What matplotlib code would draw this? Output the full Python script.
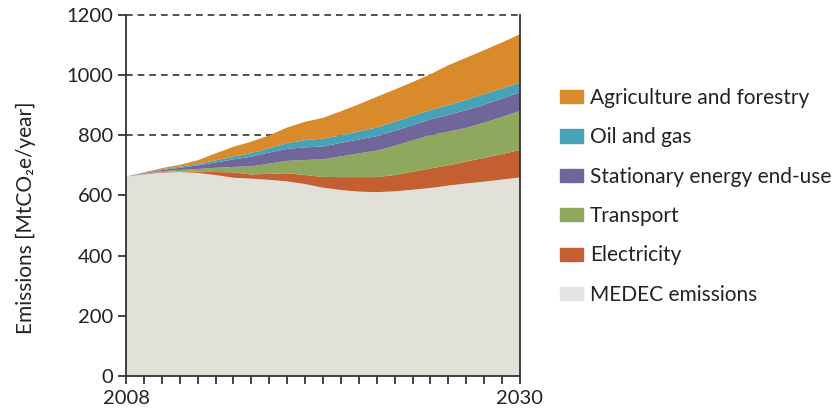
import matplotlib
matplotlib.use("Agg")
import matplotlib.pyplot as plt
import numpy as np

plt.rcParams['font.family'] = ['Lato', 'DejaVu Sans']

years = list(range(2008, 2031))
# cumulative tops
medec_top = [663, 670, 676, 678, 675, 668, 659, 656, 652, 647, 638, 626, 618, 613, 611, 614, 619, 625, 633, 640, 646, 653, 660]
elec_top = [663, 671, 678, 680, 679, 678, 677, 670, 672, 674, 668, 662, 661, 661, 661, 668, 679, 690, 700, 713, 725, 738, 751]
trans_top = [663, 672, 681, 685, 688, 692, 695, 697, 706, 715, 718, 720, 730, 740, 749, 765, 783, 801, 812, 825, 842, 861, 881]
stat_top = [663, 674, 685, 692, 700, 710, 720, 729, 743, 755, 760, 763, 775, 786, 797, 815, 834, 853, 868, 884, 902, 922, 943]
oil_top = [663, 675, 687, 696, 705, 717, 729, 741, 757, 774, 784, 789, 800, 813, 826, 845, 865, 884, 900, 918, 937, 956, 975]
agri_top = [663, 677, 691, 702, 717, 740, 762, 779, 800, 826, 845, 858, 880, 903, 928, 952, 977, 1003, 1033, 1058, 1083, 1109, 1136]

series_names = ["MEDEC emissions", "Electricity", "Transport",
                "Stationary energy end-use", "Oil and gas", "Agriculture and forestry"]
colors = ['#e1e1da', '#c45f31', '#8ea85d', '#706699', '#46a2b6', '#d98b2b']
legend_colors = ['#e3e3e3', '#c45f31', '#8ea85d', '#706699', '#46a2b6', '#d98b2b']

tops = [medec_top, elec_top, trans_top, stat_top, oil_top, agri_top]
vals = [np.array(tops[0], float)] + [np.array(tops[i], float) - np.array(tops[i - 1], float) for i in range(1, 6)]

fig = plt.figure(figsize=(8.33, 4.13), dpi=100)
ax = fig.add_axes([0.1513, 0.0896, 0.4729, 0.8741])

for yv in [800, 1000, 1200]:
    ax.axhline(yv, color='#333333', lw=1.2, ls=(0, (4, 3)), zorder=0, clip_on=False)

polys = ax.stackplot(years, *vals, colors=colors, linewidth=0, zorder=2)

ax.set_xlim(2008, 2030)
ax.set_ylim(0, 1200)
ax.set_yticks([0, 200, 400, 600, 800, 1000, 1200])
ax.set_xticks([2008, 2030])
ax.set_xticks(years, minor=True)
ax.tick_params(axis='both', which='both', direction='out', length=6, width=1.2,
               color='#222222', labelsize=14.5, labelcolor='#222222')
ax.tick_params(axis='x', pad=4)

for s in ['left', 'bottom', 'right']:
    ax.spines[s].set_color('#333333')
    ax.spines[s].set_linewidth(1.3)
    ax.spines[s].set_zorder(3)
ax.spines['top'].set_visible(False)

ax.set_ylabel("Emissions [MtCO₂e/year]", fontsize=15, color='#222222')
ax.yaxis.set_label_coords(-0.228, 0.438)

handles = [plt.Rectangle((0, 0), 1, 1, color=c) for c in legend_colors]
leg = fig.legend(handles[::-1], series_names[::-1], loc='upper left',
                 bbox_to_anchor=(0.672, 0.787), frameon=False, fontsize=15,
                 handlelength=1.1, handleheight=0.6, labelspacing=0.93,
                 handletextpad=0.34, borderaxespad=0, borderpad=0)
for t in leg.get_texts():
    t.set_color('#222222')

fig.savefig("out.png", dpi=100)
